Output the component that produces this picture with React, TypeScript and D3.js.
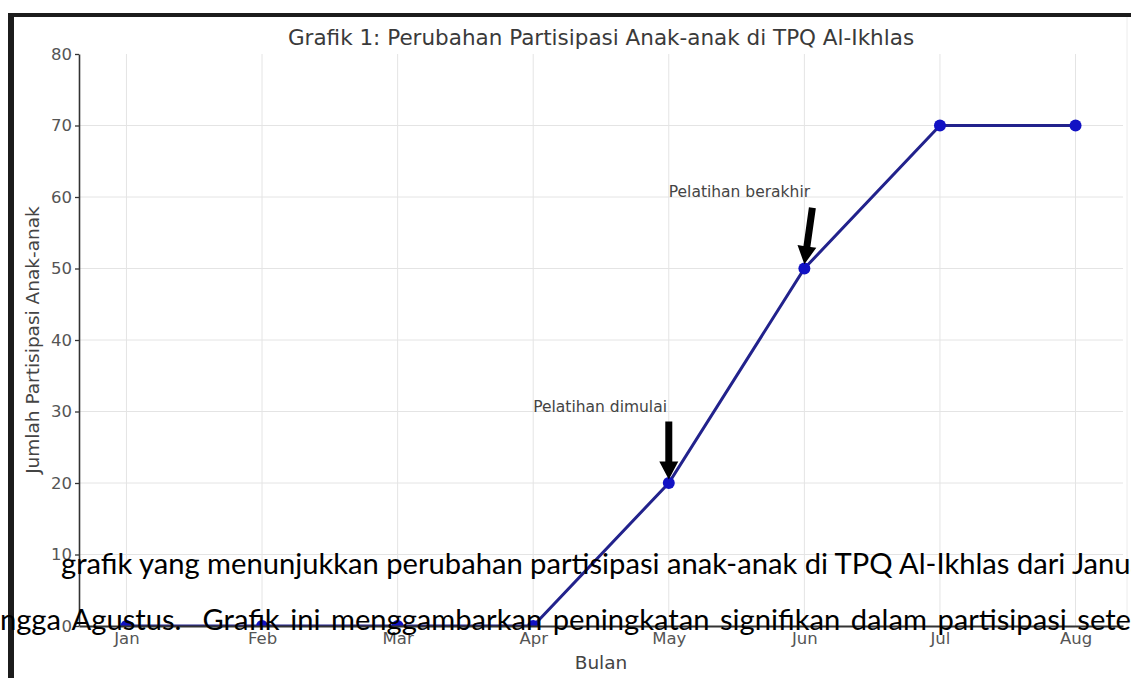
import React, { useRef, useEffect } from "react";
import * as d3 from "d3";

const months = ["Jan", "Feb", "Mar", "Apr", "May", "Jun", "Jul", "Aug"];
const participants = [0, 0, 0, 0, 20, 50, 70, 70];
const yTicks = [0, 10, 20, 30, 40, 50, 60, 70, 80];

const annotations = [
  { label: "Pelatihan dimulai", textMonth: "Apr", textValue: 30, arrowMonth: "May", tailShift: 0, tailValue: 28.6, headValue: 20.5 },
  { label: "Pelatihan berakhir", textMonth: "May", textValue: 60, arrowMonth: "Jun", tailShift: 8, tailValue: 58.5, headValue: 50.6 },
];

const titleText = "Grafik 1: Perubahan Partisipasi Anak-anak di TPQ Al-Ikhlas";
const xLabel = "Bulan";
const yLabel = "Jumlah Partisipasi Anak-anak";

// document text lying over the picture
const overlayLine1 = "grafik yang menunjukkan perubahan partisipasi anak-anak di TPQ Al-Ikhlas dari Januari";
const overlayLine2 = ["hingga", "Agustus.", "Grafik", "ini", "menggambarkan", "peningkatan", "signifikan", "dalam", "partisipasi", "setelah"];

function arrowPoints(x0: number, y0: number, x1: number, y1: number, shaft = 7, headW = 19, headL = 18) {
  const len = Math.hypot(x1 - x0, y1 - y0);
  const ux = (x1 - x0) / len, uy = (y1 - y0) / len;
  const px = -uy, py = ux;
  const bx = x1 - ux * headL, by = y1 - uy * headL;
  const pts = [
    [x0 + (px * shaft) / 2, y0 + (py * shaft) / 2],
    [bx + (px * shaft) / 2, by + (py * shaft) / 2],
    [bx + (px * headW) / 2, by + (py * headW) / 2],
    [x1, y1],
    [bx - (px * headW) / 2, by - (py * headW) / 2],
    [bx - (px * shaft) / 2, by - (py * shaft) / 2],
    [x0 - (px * shaft) / 2, y0 - (py * shaft) / 2],
  ];
  return pts.map((p) => p.join(",")).join(" ");
}

function App() {
  const svgRef = useRef<SVGSVGElement>(null);

  useEffect(() => {
    const width = 1131, height = 678;
    const margin = { top: 54, right: 8, bottom: 52, left: 79 };
    const svg = d3.select(svgRef.current);
    svg.selectAll("*").remove();

    const x = d3.scalePoint<string>().domain(months).range([margin.left, width - margin.right]).padding(0.35);
    const y = d3.scaleLinear().domain([0, 80]).range([height - margin.bottom, margin.top]);
    const data = months.map((m, i) => ({ month: m, value: participants[i] }));
    const font = "DejaVu Sans, sans-serif";

    svg.append("rect").attr("width", width).attr("height", height).attr("fill", "#fff");

    // page frame of the screenshot
    svg.append("rect").attr("x", 8).attr("y", 13).attr("width", width - 8).attr("height", 4).attr("fill", "#1c1c1c");
    svg.append("rect").attr("x", 8).attr("y", 13).attr("width", 6).attr("height", height - 13).attr("fill", "#1c1c1c");
    svg.append("line").attr("x1", 1127).attr("x2", 1127).attr("y1", 17).attr("y2", 626).attr("stroke", "#ececec");

    svg.append("defs").append("clipPath").attr("id", "plot-clip")
      .append("rect").attr("x", margin.left).attr("y", margin.top)
      .attr("width", width - margin.left - margin.right).attr("height", height - margin.top - margin.bottom);

    // grid
    const grid = svg.append("g").attr("stroke", "#e4e4e4").attr("stroke-width", 1);
    grid.selectAll(".vg").data(months).join("line").attr("class", "vg")
      .attr("x1", (d) => x(d)!).attr("x2", (d) => x(d)!)
      .attr("y1", y(80)).attr("y2", y(0));
    grid.selectAll(".hg").data(yTicks.filter((t) => t > 0 && t < 80)).join("line").attr("class", "hg")
      .attr("x1", margin.left).attr("x2", width - margin.right)
      .attr("y1", (d) => y(d)).attr("y2", (d) => y(d));

    // series
    const plot = svg.append("g").attr("clip-path", "url(#plot-clip)");
    plot.append("path").datum(data)
      .attr("fill", "none").attr("stroke", "#22228c").attr("stroke-width", 3)
      .attr("d", d3.line<{ month: string; value: number }>().x((d) => x(d.month)!).y((d) => y(d.value)));
    plot.selectAll("circle").data(data).join("circle")
      .attr("cx", (d) => x(d.month)!).attr("cy", (d) => y(d.value)).attr("r", 6)
      .attr("fill", "#1212c4");

    // axes
    const yAxis = svg.append("g").attr("transform", `translate(${margin.left},0)`)
      .call(d3.axisLeft(y).tickValues(yTicks).tickSize(4).tickSizeOuter(0).tickPadding(3));
    yAxis.select(".domain").attr("stroke", "#333").attr("stroke-width", 1.6);
    yAxis.selectAll(".tick line").attr("stroke", "#333").attr("stroke-width", 1.3);
    yAxis.selectAll("text").attr("font-family", font).attr("font-size", 16.5).attr("fill", "#555");

    const xAxis = svg.append("g").attr("transform", `translate(0,${y(0)})`)
      .call(d3.axisBottom(x).tickSize(0).tickSizeOuter(0).tickPadding(6));
    xAxis.select(".domain").attr("stroke", "#333").attr("stroke-width", 2);
    xAxis.selectAll("text").attr("font-family", font).attr("font-size", 16.5).attr("fill", "#555");

    // title and labels
    const cx = (margin.left + width - margin.right) / 2;
    svg.append("text").attr("x", cx).attr("y", 45).attr("text-anchor", "middle")
      .attr("font-family", font).attr("font-size", 21.5).attr("fill", "#3a3a3a").text(titleText);
    svg.append("text").attr("x", cx).attr("y", 669).attr("text-anchor", "middle")
      .attr("font-family", font).attr("font-size", 18.5).attr("fill", "#444").text(xLabel);
    svg.append("text").attr("transform", `translate(39,${y(40)}) rotate(-90)`).attr("text-anchor", "middle")
      .attr("font-family", font).attr("font-size", 18.5).attr("fill", "#444").text(yLabel);

    // annotations
    annotations.forEach((a) => {
      svg.append("text").attr("x", x(a.textMonth)!).attr("y", y(a.textValue))
        .attr("font-family", font).attr("font-size", 15.5).attr("fill", "#444").text(a.label);
      const ax = x(a.arrowMonth)!;
      svg.append("polygon").attr("fill", "#000")
        .attr("points", arrowPoints(ax + a.tailShift, y(a.tailValue), ax, y(a.headValue)));
    });

    // overlaid document text
    const docFont = "Lato, 'Open Sans', sans-serif";
    const baseSize = 31;
    const l1 = svg.append("text").attr("x", 61).attr("y", 574)
      .attr("font-family", docFont).attr("font-size", baseSize).attr("fill", "#000").text(overlayLine1);
    const n1 = l1.node() as SVGTextElement;
    const cut = overlayLine1.indexOf("Janu") + 4;
    const w1 = n1.getSubStringLength(0, cut);
    const size = (baseSize * 1070) / w1;
    l1.attr("font-size", size);

    const l2 = svg.append("g").attr("font-family", docFont).attr("font-size", size).attr("fill", "#000");
    const words = overlayLine2.map((w) => l2.append("text").attr("y", 630).text(w));
    const widths = words.map((t) => (t.node() as SVGTextElement).getComputedTextLength());
    const hiWidth = (words[0].node() as SVGTextElement).getSubStringLength(0, 2);
    const seteWidth = (words[words.length - 1].node() as SVGTextElement).getSubStringLength(0, 4);
    const start = -hiWidth;
    const gapUnits = overlayLine2.map((w, i) => (i === 0 ? 0 : overlayLine2[i - 1].endsWith(".") ? 2 : 1));
    const lastStart = 1131 - seteWidth;
    const sumW = widths.slice(0, -1).reduce((s, v) => s + v, 0);
    const unitsTotal = gapUnits.reduce((s, v) => s + v, 0);
    const gap = (lastStart - start - sumW) / unitsTotal;
    let pos = start;
    words.forEach((t, i) => {
      pos += gapUnits[i] * gap;
      t.attr("x", pos);
      pos += widths[i];
    });
  }, []);

  return (
    <svg
      ref={svgRef}
      width={1131}
      height={678}
      style={{ position: "absolute", left: 0, top: 0, display: "block" }}
    ></svg>
  );
}

export default App;
